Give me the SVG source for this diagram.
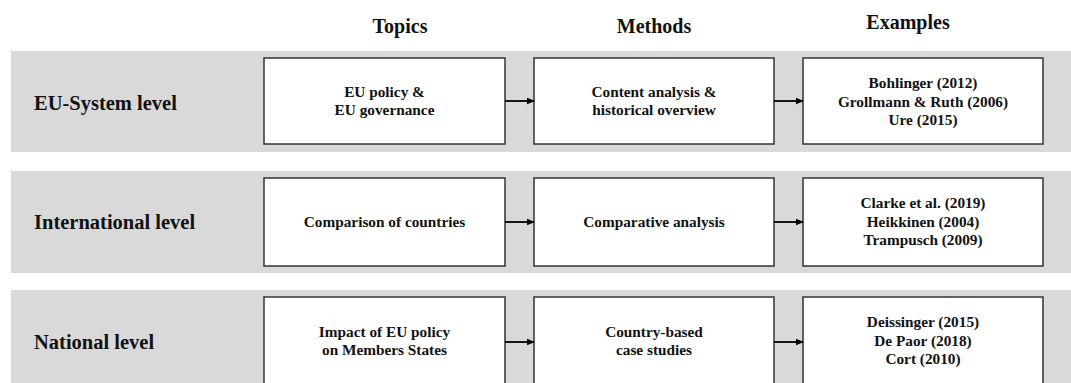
<svg xmlns="http://www.w3.org/2000/svg" width="1071" height="383" viewBox="0 0 1071 383">
<defs>
<marker id="ah" markerWidth="8" markerHeight="8" refX="7" refY="4" orient="auto" markerUnits="userSpaceOnUse">
<path d="M0,0.8 L8,4 L0,7.2 Z" fill="#000"/>
</marker>
<style>
.band{fill:#d9d9d9}
.box{fill:#fff;stroke:#333;stroke-width:1.5}
.hdr{font-family:"Liberation Serif","Times New Roman",serif;font-weight:bold;font-size:20px;fill:#111;text-anchor:middle}
.lvl{font-family:"Liberation Serif","Times New Roman",serif;font-weight:bold;font-size:20.5px;fill:#111}
.t{font-family:"Liberation Serif","Times New Roman",serif;font-weight:bold;font-size:15.3px;fill:#111;text-anchor:middle}
.conn{stroke:#000;stroke-width:1.8;fill:none}
</style>
</defs>
<rect width="1071" height="383" fill="#fff"/>
<g id="headers">
<text class="hdr" x="400" y="33">Topics</text>
<text class="hdr" x="654" y="33">Methods</text>
<text class="hdr" x="908" y="29">Examples</text>
</g>
<g id="bands">
<rect class="band" x="11" y="51" width="1060" height="101"/>
<rect class="band" x="11" y="171" width="1060" height="102"/>
<rect class="band" x="11" y="290" width="1060" height="93"/>
</g>
<g id="level-eu"><text class="lvl" x="34" y="110">EU-System level</text></g>
<g id="level-int"><text class="lvl" x="34" y="229">International level</text></g>
<g id="level-nat"><text class="lvl" x="34" y="349">National level</text></g>

<g id="topic-1"><rect class="box" x="264" y="58" width="241" height="86"/>
<text class="t" x="384.5" y="97">EU policy &amp;</text><text class="t" x="384.5" y="115">EU governance</text></g>
<g id="method-1"><rect class="box" x="534" y="58" width="240" height="86"/>
<text class="t" x="654" y="97">Content analysis &amp;</text><text class="t" x="654" y="115">historical overview</text></g>
<g id="example-1"><rect class="box" x="803" y="58" width="240" height="86"/>
<text class="t" x="923" y="88">Bohlinger (2012)</text><text class="t" x="923" y="107">Grollmann &amp; Ruth (2006)</text><text class="t" x="923" y="125">Ure (2015)</text></g>

<g id="topic-2"><rect class="box" x="264" y="178" width="241" height="88"/>
<text class="t" x="384.5" y="227">Comparison of countries</text></g>
<g id="method-2"><rect class="box" x="534" y="178" width="240" height="88"/>
<text class="t" x="654" y="227">Comparative analysis</text></g>
<g id="example-2"><rect class="box" x="803" y="178" width="240" height="88"/>
<text class="t" x="923" y="208">Clarke et al. (2019)</text><text class="t" x="923" y="227">Heikkinen (2004)</text><text class="t" x="923" y="245">Trampusch (2009)</text></g>

<g id="topic-3"><rect class="box" x="264" y="297" width="241" height="100"/>
<text class="t" x="384.5" y="337">Impact of EU policy</text><text class="t" x="384.5" y="355">on Members States</text></g>
<g id="method-3"><rect class="box" x="534" y="297" width="240" height="100"/>
<text class="t" x="654" y="337">Country-based</text><text class="t" x="654" y="355">case studies</text></g>
<g id="example-3"><rect class="box" x="803" y="297" width="240" height="100"/>
<text class="t" x="923" y="327">Deissinger (2015)</text><text class="t" x="923" y="346">De Paor (2018)</text><text class="t" x="923" y="364">Cort (2010)</text></g>

<g id="connectors">
<line class="conn" x1="505" y1="101" x2="534" y2="101" marker-end="url(#ah)"/>
<line class="conn" x1="774" y1="101" x2="803" y2="101" marker-end="url(#ah)"/>
<line class="conn" x1="505" y1="222" x2="534" y2="222" marker-end="url(#ah)"/>
<line class="conn" x1="774" y1="222" x2="803" y2="222" marker-end="url(#ah)"/>
<line class="conn" x1="505" y1="342" x2="534" y2="342" marker-end="url(#ah)"/>
<line class="conn" x1="774" y1="342" x2="803" y2="342" marker-end="url(#ah)"/>
</g>
</svg>
